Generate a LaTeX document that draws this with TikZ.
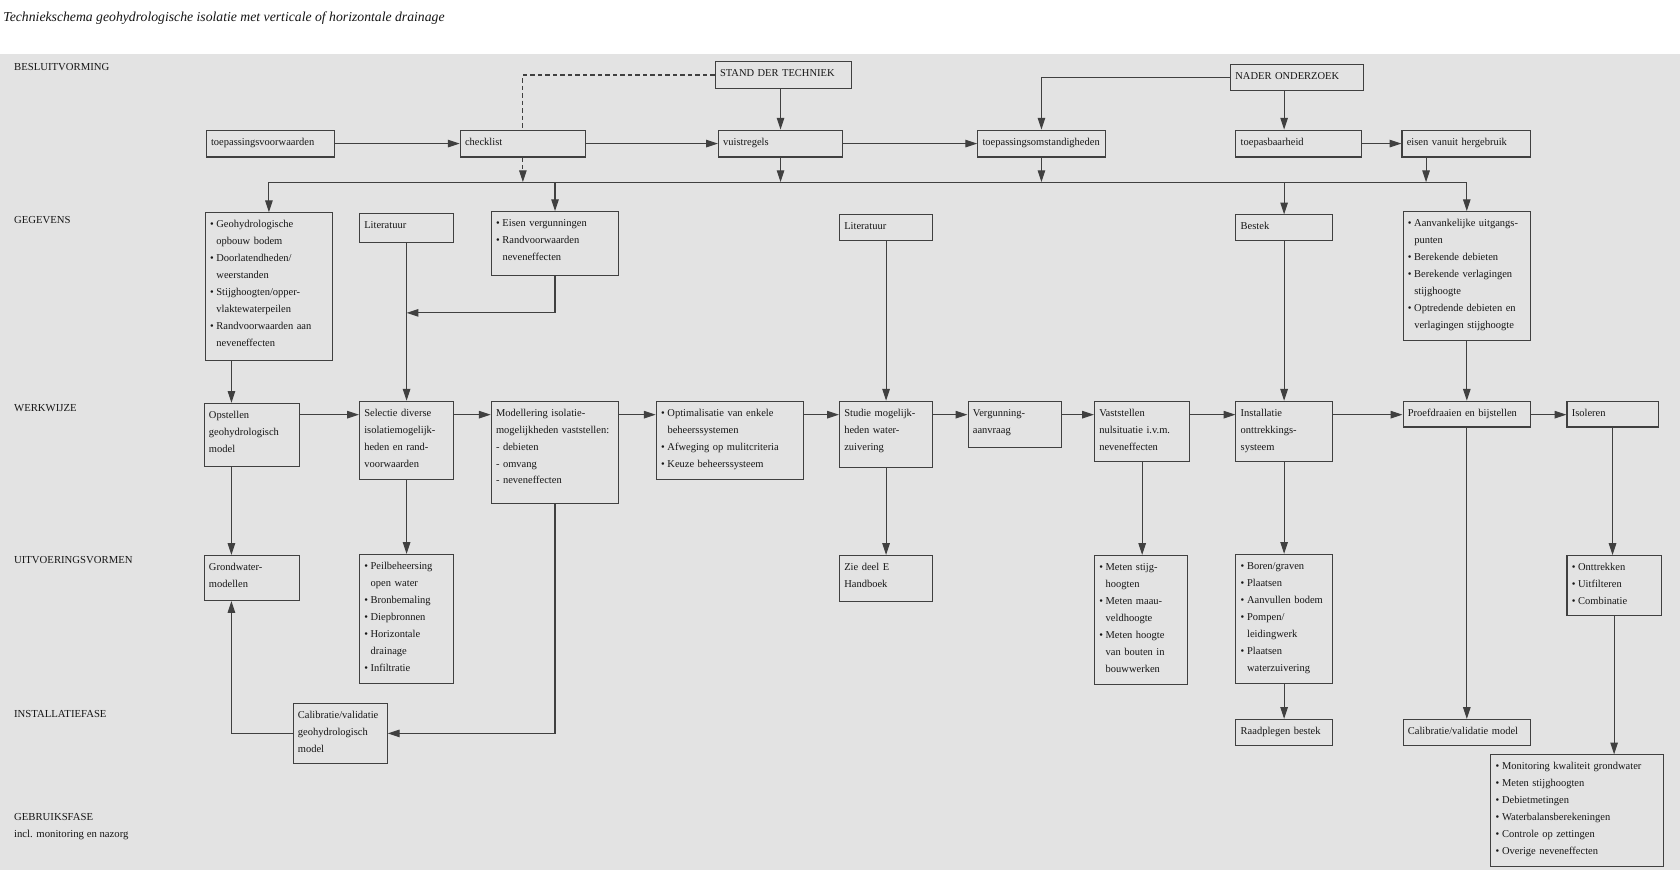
\documentclass[tikz,border=0pt]{standalone}
\usepackage{fontspec}
\setmainfont{Liberation Serif}
\usetikzlibrary{arrows.meta}
\definecolor{paneel}{HTML}{E3E3E3}
\definecolor{lijnkleur}{HTML}{404040}
\definecolor{tekstkleur}{HTML}{161616}
\newcommand{\bol}{\textbullet\hspace{2.5pt}}
\newcommand{\insp}{\hspace*{6pt}}
\newcommand{\regels}[1]{\begin{tabular}[t]{@{}l@{}}#1\end{tabular}}
% vak: naam, x, y (linksboven), breedte, hoogte, tekst
\newcommand{\vak}[6]{
  \pgfmathsetmacro{\vakb}{#4-9}
  \pgfmathsetmacro{\vakd}{#5-19}
  \node[vak, text width=\vakb pt, text depth=\vakd pt] (#1) at (#2, #3) {\regels{#6}};
}
\tikzset{
  vak/.style={draw=lijnkleur, line width=1pt, anchor=north west, inner xsep=4.5pt,
    inner ysep=5pt, align=left, text height=9pt, text=tekstkleur,
    font=\fontsize{9.8}{15.8}\selectfont},
  lijn/.style={draw=lijnkleur, line width=1pt},
  pijl/.style={lijn, -{Triangle[length=11pt, width=7pt]}},
  streep/.style={lijn, dash pattern=on 4pt off 3pt},
  fase/.style={anchor=base west, inner sep=0pt, text=tekstkleur, font=\fontsize{10}{15.8}\selectfont}
}

\begin{document}
\begin{tikzpicture}[x=1pt, y=-1pt]
  \useasboundingbox (0,0) rectangle (1568,812);
  \fill[white] (0,0) rectangle (1568,812);
  \fill[paneel] (0,50) rectangle (1568,812);

  \node[anchor=west, inner sep=0pt, text=tekstkleur, font=\itshape\fontsize{12.8}{15}\selectfont] (titel) at (3,17)
    {Techniekschema geohydrologische isolatie met verticale of horizontale drainage};

  % fasen
  \node[fase] (besl) at (13,66) {BESLUITVORMING};
  \node[fase] (gegev) at (13,209) {GEGEVENS};
  \node[fase] (werkw) at (13,384) {WERKWIJZE};
  \node[fase] (uitv) at (13,526) {UITVOERINGSVORMEN};
  \node[fase] (instf) at (13,670) {INSTALLATIEFASE};
  \node[fase] (gebr) at (13,766) {GEBRUIKSFASE};
  \node[fase] (gebrsub) at (13,782) {incl. monitoring en nazorg};

  % besluitvorming
  \vak{stand}{667}{57}{127}{25}{STAND DER TECHNIEK}
  \vak{nader}{1148}{60}{124}{24}{NADER ONDERZOEK}
  \vak{toepv}{192}{121}{120}{25}{toepassingsvoorwaarden}
  \vak{check}{429}{121}{117}{25}{checklist}
  \vak{vuist}{670}{121}{116}{25}{vuistregels}
  \vak{toepom}{912}{121}{119}{25}{toepassingsomstandigheden}
  \vak{toepb}{1153}{121}{117}{25}{toepasbaarheid}
  \vak{herg}{1308}{121}{120}{25}{eisen vanuit hergebruik}

  % gegevens
  \vak{geo}{191}{198}{119}{138}{\bol Geohydrologische\\ \insp opbouw bodem\\ \bol Doorlatendheden/\\ \insp weerstanden\\ \bol Stijghoogten/opper-\\ \insp vlaktewaterpeilen\\ \bol Randvoorwaarden aan\\ \insp neveneffecten}
  \vak{lit1}{335}{199}{88}{27}{Literatuur}
  \vak{eisen}{458}{197}{119}{60}{\bol Eisen vergunningen\\ \bol Randvoorwaarden\\ \insp neveneffecten}
  \vak{lit2}{783}{200}{87}{24}{Literatuur}
  \vak{bestek}{1153}{200}{90}{24}{Bestek}
  \vak{aanv}{1309}{197}{119}{120}{\bol Aanvankelijke uitgangs-\\ \insp punten\\ \bol Berekende debieten\\ \bol Berekende verlagingen\\ \insp stijghoogte\\ \bol Optredende debieten en\\ \insp verlagingen stijghoogte}

  % werkwijze
  \vak{opst}{190}{376}{89}{59}{Opstellen\\ geohydrologisch\\ model}
  \vak{sel}{335}{374}{88}{73}{Selectie diverse\\ isolatiemogelijk-\\ heden en rand-\\ voorwaarden}
  \vak{mod}{458}{374}{119}{95}{Modellering isolatie-\\ mogelijkheden vaststellen:\\ - debieten\\ - omvang\\ - neveneffecten}
  \vak{opt}{612}{374}{137}{73}{\bol Optimalisatie van enkele\\ \insp beheerssystemen\\ \bol Afweging op mulitcriteria\\ \bol Keuze beheerssysteem}
  \vak{stud}{783}{374}{87}{62}{Studie mogelijk-\\ heden water-\\ zuivering}
  \vak{verg}{903}{374}{87}{43}{Vergunning-\\ aanvraag}
  \vak{vast}{1021}{374}{89}{56}{Vaststellen\\ nulsituatie i.v.m.\\ neveneffecten}
  \vak{inst}{1153}{374}{90}{56}{Installatie\\ onttrekkings-\\ systeem}
  \vak{proef}{1309}{374}{119}{24}{Proefdraaien en bijstellen}
  \vak{isol}{1462}{374}{85}{24}{Isoleren}

  % uitvoeringsvormen
  \vak{grondw}{190}{518}{89}{42}{Grondwater-\\ modellen}
  \vak{peil}{335}{517}{88}{120}{\bol Peilbeheersing\\ \insp open water\\ \bol Bronbemaling\\ \bol Diepbronnen\\ \bol Horizontale\\ \insp drainage\\ \bol Infiltratie}
  \vak{zie}{783}{518}{87}{43}{Zie deel E\\ Handboek}
  \vak{meten}{1021}{518}{87}{120}{\bol Meten stijg-\\ \insp hoogten\\ \bol Meten maau-\\ \insp veldhoogte\\ \bol Meten hoogte\\ \insp van bouten in\\ \insp bouwwerken}
  \vak{boren}{1153}{517}{90}{120}{\bol Boren/graven\\ \bol Plaatsen\\ \bol Aanvullen bodem\\ \bol Pompen/\\ \insp leidingwerk\\ \bol Plaatsen\\ \insp waterzuivering}
  \vak{ontt}{1462}{518}{88}{56}{\bol Onttrekken\\ \bol Uitfilteren\\ \bol Combinatie}

  % installatie en gebruik
  \vak{calib}{273}{656}{88}{56}{Calibratie/validatie\\ geohydrologisch\\ model}
  \vak{raad}{1153}{671}{90}{24}{Raadplegen bestek}
  \vak{calm}{1309}{671}{119}{24}{Calibratie/validatie model}
  \vak{mon}{1391}{704}{161}{104}{\bol Monitoring kwaliteit grondwater\\ \bol Meten stijghoogten\\ \bol Debietmetingen\\ \bol Waterbalansberekeningen\\ \bol Controle op zettingen\\ \bol Overige neveneffecten}

  % hulppunten
  \coordinate (bus) at (0,170);
  \coordinate (knik) at (0,292);
  \coordinate (rij) at (0,387);
  \coordinate (hergu) at ([xshift=23pt]herg.south west);
  \coordinate (gx) at ([xshift=25pt]geo.south west);

  % bovenste rij
  \draw[streep] (stand.west) -| (check.north);
  \draw[streep, pijl] (check.south) -- (check.south |- bus);
  \draw[pijl] (stand.south -| vuist.north) -- (vuist.north);
  \draw[pijl] (nader.west) -| (toepom.north);
  \draw[pijl] (nader.south -| bestek.north) -- (toepb.north -| bestek.north);
  \draw[pijl] (toepv.east) -- (check.west);
  \draw[pijl] (check.east) -- (vuist.west);
  \draw[pijl] (vuist.east) -- (toepom.west);
  \draw[pijl] (toepb.east) -- (herg.west);
  \draw[pijl] (vuist.south) -- (vuist.south |- bus);
  \draw[pijl] (toepom.south) -- (toepom.south |- bus);
  \draw[pijl] (hergu) -- (hergu |- bus);

  % verdeellijn
  \draw[lijn] (geo.north |- bus) -- (aanv.north |- bus);
  \draw[pijl] (geo.north |- bus) -- (geo.north);
  \draw[pijl] (eisen.north |- bus) -- (eisen.north);
  \draw[pijl] (bestek.north |- bus) -- (bestek.north);
  \draw[pijl] (aanv.north |- bus) -- (aanv.north);

  % gegevens naar werkwijze
  \draw[pijl] (eisen.south) |- (lit1.south |- knik);
  \draw[pijl] (lit1.south) -- (sel.north);
  \draw[pijl] (gx) -- (gx |- opst.north);
  \draw[pijl] (lit2.south) -- (stud.north);
  \draw[pijl] (bestek.south) -- (inst.north);
  \draw[pijl] (aanv.south) -- (proef.north);

  % werkwijze
  \draw[pijl] (opst.east |- rij) -- (sel.west |- rij);
  \draw[pijl] (sel.east |- rij) -- (mod.west |- rij);
  \draw[pijl] (mod.east |- rij) -- (opt.west |- rij);
  \draw[pijl] (opt.east |- rij) -- (stud.west |- rij);
  \draw[pijl] (stud.east |- rij) -- (verg.west |- rij);
  \draw[pijl] (verg.east |- rij) -- (vast.west |- rij);
  \draw[pijl] (vast.east |- rij) -- (inst.west |- rij);
  \draw[pijl] (inst.east |- rij) -- (proef.west |- rij);
  \draw[pijl] (proef.east |- rij) -- (isol.west |- rij);

  % naar uitvoering en installatie
  \draw[pijl] (gx |- opst.south) -- (gx |- grondw.north);
  \draw[pijl] (sel.south) -- (peil.north);
  \draw[pijl] (stud.south) -- (zie.north);
  \draw[pijl] (vast.south) -- (vast.south |- meten.north);
  \draw[pijl] (inst.south) -- (boren.north);
  \draw[pijl] (isol.south) -- (isol.south |- ontt.north);
  \draw[pijl] (mod.south) |- (calib.east);
  \draw[pijl] (calib.west) -| (gx |- grondw.south);
  \draw[pijl] (boren.south) -- (raad.north);
  \draw[pijl] (proef.south) -- (calm.north);
  \draw[pijl] (ontt.south) -- (ontt.south |- mon.north);
\end{tikzpicture}
\end{document}
